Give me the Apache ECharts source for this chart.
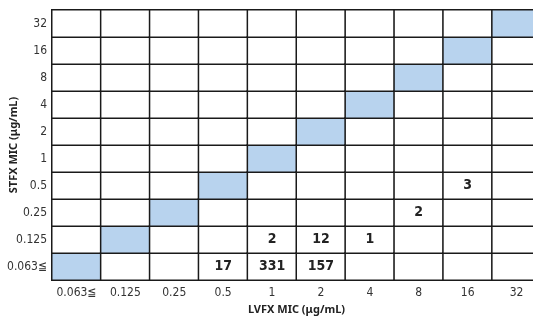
<!DOCTYPE html>
<html>
<head>
<meta charset="utf-8">
<script src="https://cdn.jsdelivr.net/npm/echarts@6/dist/echarts.min.js"></script>
<style>
html, body { margin: 0; padding: 0; background: #fff; }
#main { width: 533px; height: 317px; }
</style>
</head>
<body>
<div id="main"></div>
<script>
// MIC 区分 (両軸とも同じ)
var lvfxMic = ['0.063≦', '0.125', '0.25', '0.5', '1', '2', '4', '8', '16', '32'];
var stfxMic = ['0.063≦', '0.125', '0.25', '0.5', '1', '2', '4', '8', '16', '32'];

// 株数 [LVFX index, STFX index, count]
var counts = [
    [3, 0, 17],
    [4, 0, 331],
    [5, 0, 157],
    [4, 1, 2],
    [5, 1, 12],
    [6, 1, 1],
    [7, 2, 2],
    [8, 3, 3]
];

var narrow = "'DejaVu Sans Condensed', 'Liberation Sans', sans-serif";

var myChart = echarts.init(document.getElementById('main'));

var cells = [];
for (var x = 0; x < lvfxMic.length; x++) {
    for (var y = 0; y < stfxMic.length; y++) {
        var v = 0;
        for (var k = 0; k < counts.length; k++) {
            if (counts[k][0] === x && counts[k][1] === y) v = counts[k][2];
        }
        cells.push({
            value: [x, y, v],
            itemStyle: { color: x === y ? '#b8d3ee' : '#ffffff' }
        });
    }
}

var option = {
    animation: false,
    grid: { left: 52, top: 10, width: 489, height: 270, outerBoundsMode: 'none', containLabel: false },
    xAxis: {
        type: 'category',
        data: lvfxMic,
        name: 'LVFX MIC (μg/mL)',
        nameLocation: 'middle',
        nameGap: 24,
        nameMoveOverlap: false,
        nameTextStyle: { fontFamily: 'Noto Sans', fontWeight: 'bold', fontSize: 11, color: '#222' },
        axisTick: { show: false },
        axisLine: { show: false },
        axisLabel: { interval: 0, fontFamily: narrow, fontSize: 12, color: '#333', margin: 7 }
    },
    yAxis: {
        type: 'category',
        data: stfxMic,
        name: 'STFX MIC (μg/mL)',
        nameLocation: 'middle',
        nameGap: 33,
        nameMoveOverlap: false,
        nameTextStyle: { fontFamily: 'Noto Sans', fontWeight: 'bold', fontSize: 11, color: '#222' },
        axisTick: { show: false },
        axisLine: { show: false },
        axisLabel: { interval: 0, fontFamily: narrow, fontSize: 12, color: '#333', margin: 5 }
    },
    series: [{
        type: 'heatmap',
        data: cells,
        itemStyle: { borderColor: '#1a1a1a', borderWidth: 1.5 },
        label: {
            show: true,
            fontFamily: narrow,
            fontWeight: 'bold',
            fontSize: 14,
            color: '#222',
            formatter: function (p) { return p.value[2] ? p.value[2] : ''; }
        },
        emphasis: { disabled: true }
    }]
};
myChart.setOption(option);
</script>
</body>
</html>
